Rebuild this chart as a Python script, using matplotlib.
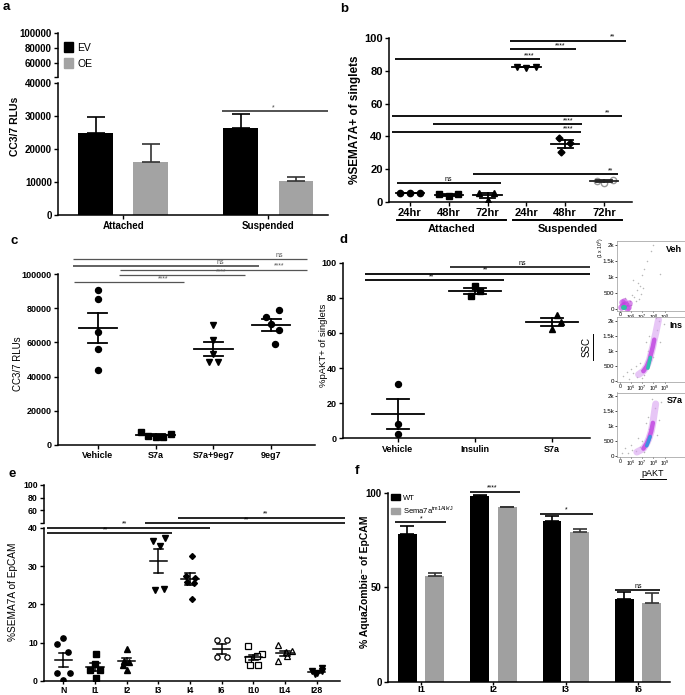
import numpy as np
import matplotlib
matplotlib.use("Agg")
import matplotlib.pyplot as plt
from matplotlib.lines import Line2D
from matplotlib.patches import Patch

plt.rcParams['font.family'] = ['Liberation Sans', 'DejaVu Sans']
plt.rcParams['font.weight'] = 'bold'
plt.rcParams['axes.labelweight'] = 'bold'
plt.rcParams['axes.linewidth'] = 1.1
plt.rcParams['xtick.major.width'] = 1.0
plt.rcParams['ytick.major.width'] = 1.0
plt.rcParams['xtick.major.size'] = 3
plt.rcParams['ytick.major.size'] = 3
plt.rcParams['xtick.major.pad'] = 1.5
plt.rcParams['ytick.major.pad'] = 1.5

# ---- data ----
# a: caspase 3/7 luminescence
a_groups = ['Attached', 'Suspended']
a_ev = [25000, 26300]
a_ev_err = [4900, 4400]
a_oe = [16000, 10300]
a_oe_err = [5500, 1100]

# b: %SEMA7A+ over time
b_times = ['24hr', '48hr', '72hr', '24hr', '48hr', '72hr']
b_vals = [[5.2, 5.5, 5.4], [5.1, 3.5, 4.7], [5.7, 5.5, 1.0],
          [82.6, 82.0, 82.6], [38.8, 36.1, 30.6], [12.9, 11.6, 13.3]]

# c: CC3/7 with S7a / 9eg7
c_groups = ['Vehicle', 'S7a', 'S7a+9eg7', '9eg7']
c_vals = [[90800, 85400, 66200, 56400, 44100],
          [7400, 5500, 4500, 4900, 6400],
          [69900, 61500, 53100, 48800, 48400],
          [78700, 74600, 70900, 67000, 59200]]

# d: %pAKT+
d_groups = ['Vehicle', 'Insulin', 'S7a']
d_vals = [[30.7, 8.0, 2.7], [86.5, 84.0, 81.0], [70.2, 66.4, 62.2]]

# e: %SEMA7A of EpCAM across involution days
e_groups = ['N', 'I1', 'I2', 'I3', 'I4', 'I6', 'I10', 'I14', 'I28']
e_vals = [[11.1, 9.7, 7.5, 2.0, 2.0, 0.2],
          [7.1, 4.4, 2.8, 2.8, 0.7],
          [8.4, 5.3, 5.0, 4.2, 2.8],
          [36.4, 35.1, 37.3, 23.7, 23.9],
          [32.7, 27.4, 26.8, 25.9, 25.5, 21.3],
          [10.6, 10.6, 6.2, 6.2],
          [9.1, 7.1, 6.5, 5.8, 4.2, 4.2],
          [9.3, 7.5, 7.7, 6.6, 5.3],
          [2.5, 2.0, 3.3, 1.8, 2.7]]

# f: % AquaZombie- of EpCAM
f_groups = ['I1', 'I2', 'I3', 'I6']
f_wt = [78.0, 98.2, 85.2, 43.7]
f_wt_err = [4.4, 0.4, 2.5, 3.9]
f_ko = [56.0, 92.2, 79.0, 41.4]
f_ko_err = [1.3, 0.4, 1.8, 5.7]

# flow plots (pAKT vs SSC)
veh_gray_x = [0.9, 1.1, 1.3, 1.5, 1.6, 1.8, 2.0, 2.2, 0.7, 1.0, 1.4, 1.9, 2.4, 2.8, 0.5, 1.2, 1.7, 2.1, 3.0, 3.6]
veh_gray_y = [250, 420, 380, 600, 820, 700, 1050, 1250, 180, 120, 260, 450, 1500, 1800, 350, 900, 300, 650, 2000, 1100]
veh_blob_x = [0.1, 0.3, 0.5, 0.7, 0.2, 0.4, 0.6, 0.8]
veh_blob_y = [60, 120, 140, 60, 200, 250, 30, 180]
veh_core_x = [0.25, 0.4]
veh_core_y = [50, 70]

ins_gray_x = [0.3, 0.8, 1.2, 1.5, 1.9, 2.2, 2.5, 3.3, 3.6, 1.0, 1.8, 2.3, 3.0, 3.9, 0.6, 2.6, 3.2, 1.4, 2.0, 3.5]
ins_gray_y = [150, 60, 250, 120, 350, 200, 1000, 1700, 1300, 400, 600, 1300, 800, 1900, 300, 1500, 2100, 500, 100, 2000]
ins_ridge_x = [1.67, 2.1, 2.41, 2.65, 2.8, 2.95, 3.07, 3.21, 3.45]
ins_ridge_y = [202, 315, 483, 708, 933, 1157, 1382, 1607, 2056]
ins_core_x = [2.5, 2.6, 2.72]
ins_core_y = [420, 580, 780]

s7a_gray_x = [0.2, 0.7, 1.1, 1.4, 1.8, 2.2, 2.6, 3.1, 3.5, 1.0, 2.0, 2.5, 3.3, 0.5, 2.9, 1.6, 3.7, 2.3]
s7a_gray_y = [100, 80, 200, 150, 300, 120, 900, 1600, 1200, 350, 500, 1300, 700, 250, 1900, 600, 1800, 1100]
s7a_ridge_x = [1.52, 2.1, 2.4, 2.6, 2.8, 2.95, 3.06, 3.2]
s7a_ridge_y = [116, 233, 407, 581, 814, 1105, 1395, 1744]
s7a_core_x = [2.4, 2.55, 2.7]
s7a_core_y = [330, 470, 640]

# ---- layout helpers ----
W, H = 685, 695
fig = plt.figure(figsize=(W / 100, H / 100), dpi=100)


def box(x0, y0, x1, y1):
    # axes from a pixel box measured from the top-left corner
    return fig.add_axes([x0 / W, 1 - y1 / H, (x1 - x0) / W, (y1 - y0) / H])


def clean(ax):
    ax.spines['top'].set_visible(False)
    ax.spines['right'].set_visible(False)


def mean_sem(ax, x, vals, wm, wc, lw=1.3, color='black'):
    m = np.mean(vals)
    s = np.std(vals, ddof=1) / np.sqrt(len(vals))
    ax.plot([x - wm / 2, x + wm / 2], [m, m], color=color, lw=lw, zorder=4)
    ax.plot([x, x], [m - s, m + s], color=color, lw=lw, zorder=4)
    for yy in (m - s, m + s):
        ax.plot([x - wc / 2, x + wc / 2], [yy, yy], color=color, lw=lw, zorder=4)


def sig(ax, x0, x1, y, txt, tx, color='black', lw=1.3, size=5):
    ax.plot([x0, x1], [y, y], color=color, lw=lw, clip_on=False, solid_capstyle='butt')
    ax.text(tx, y, txt, ha='center', va='bottom', fontsize=size, color=color,
            fontweight='normal', clip_on=False)


def fig_line(x0, y0, x1, y1, lw=1.3, color='black'):
    fig.add_artist(Line2D([x0 / W, x1 / W], [1 - y0 / H, 1 - y1 / H], lw=lw, color=color))


def fig_text(x, y, s, **kw):
    fig.text(x / W, 1 - y / H, s, **kw)


# ---- panel a ----
axa = box(58, 83.3, 328, 215)
axa_up = box(58, 33.3, 328, 77.3)
x = np.arange(len(a_groups))
axa.bar(x - 0.19, a_ev, 0.24, color='black')
axa.bar(x + 0.19, a_oe, 0.24, color='#a3a3a3')
axa.errorbar(x - 0.19, a_ev, yerr=[np.zeros(2), a_ev_err], fmt='none', ecolor='black',
             elinewidth=1.2, capsize=6.5, capthick=1.2)
axa.errorbar(x + 0.19, a_oe, yerr=[np.zeros(2), a_oe_err], fmt='none', ecolor='#333333',
             elinewidth=1.2, capsize=6.5, capthick=1.2)
axa.set_xlim(-0.45, 1.41)
axa.set_ylim(0, 40000)
axa.set_yticks([0, 10000, 20000, 30000, 40000])
axa.set_xticks(x)
axa.set_xticklabels(a_groups)
axa.tick_params(labelsize=7)
clean(axa)
sig(axa, 0.68, 1.41, 31500, '*', 1.03, color='#444444')
axa_up.set_xlim(-0.45, 1.41)
axa_up.set_ylim(40000, 100000)
axa_up.set_yticks([40000, 60000, 80000, 100000])
axa_up.set_yticklabels(['', '60000', '80000', '100000'])
axa_up.set_xticks([])
axa_up.tick_params(labelsize=7)
for sp in ['top', 'right', 'bottom']:
    axa_up.spines[sp].set_visible(False)
axa_up.patch.set_alpha(0)
fig_text(15, 126, 'CC3/7 RLUs', rotation=90, ha='center', va='center', fontsize=7.5)
fig.legend(handles=[Patch(color='black', label='EV'), Patch(color='#a3a3a3', label='OE')],
           loc='upper left', bbox_to_anchor=(64 / W, 1 - 42 / H), frameon=False,
           prop={'size': 7.5, 'weight': 'normal'}, handlelength=0.9, handleheight=1.1,
           handletextpad=0.4, labelspacing=0.55, borderpad=0, borderaxespad=0)

# ---- panel b ----
axb = box(389, 38, 632, 202)
b_markers = ['o', 's', '^', 'v', 'D', 'o']
b_offsets = [[-0.25, 0, 0.25], [-0.25, 0, 0.25], [-0.21, 0.17, 0],
             [-0.25, 0, 0.25], [-0.15, 0.11, -0.1], [-0.19, 0, 0.22]]
for i, vals in enumerate(b_vals):
    xs = i + np.array(b_offsets[i])
    if i == 5:
        axb.plot(xs, vals, ls='none', marker='o', ms=4.5, mfc='white', mec='#999999', mew=1, zorder=3)
        mean_sem(axb, i, vals, 0.73, 0.39, color='#222222')
    else:
        axb.plot(xs, vals, ls='none', marker=b_markers[i], ms=4.5 if b_markers[i] != 'D' else 3.5,
                 color='black', zorder=3)
        mean_sem(axb, i, vals, 0.73, 0.39)
axb.set_xlim(-0.54, 5.72)
axb.set_ylim(0, 100)
axb.set_yticks([0, 20, 40, 60, 80, 100])
axb.set_xticks(range(6))
axb.set_xticklabels(b_times)
axb.tick_params(labelsize=8)
clean(axb)
sig(axb, -0.39, 3.35, 87, '****', 3.07)
sig(axb, 2.58, 4.28, 93, '****', 3.87)
sig(axb, 2.58, 5.57, 98.3, '**', 5.23)
sig(axb, -0.46, 5.46, 52.3, '**', 5.08)
sig(axb, 0.59, 4.43, 47.5, '****', 4.07)
sig(axb, -0.46, 4.41, 42.5, '****', 4.07)
sig(axb, 1.62, 5.36, 17, '**', 5.18)
sig(axb, -0.34, 2.35, 11.5, 'ns', 0.98)
fig_text(355, 120, '%SEMA7A+ of singlets', rotation=90, ha='center', va='center', fontsize=8.5)
fig_line(397, 220, 506, 220, lw=1.4)
fig_line(513, 220, 622, 220, lw=1.4)
fig_text(452, 229, 'Attached', ha='center', va='center', fontsize=8)
fig_text(568, 229, 'Suspended', ha='center', va='center', fontsize=8)

# ---- panel c ----
axc = box(58, 274, 315, 445)
c_markers = ['o', 's', 'v', 'o']
c_offsets = [[0, 0, 0, 0, 0], [-0.26, -0.13, 0, 0.13, 0.26],
             [0, 0, 0, -0.08, 0.08], [0.14, -0.09, 0, 0.13, 0.06]]
for i, vals in enumerate(c_vals):
    axc.plot(i + np.array(c_offsets[i]), vals, ls='none', marker=c_markers[i], ms=4.3,
             color='black', zorder=3)
    mean_sem(axc, i, vals, 0.67, 0.33)
axc.set_xlim(-0.69, 3.76)
axc.set_ylim(0, 100000)
axc.set_yticks(range(0, 100001, 20000))
axc.set_xticks(range(4))
axc.set_xticklabels(c_groups)
axc.tick_params(labelsize=6.5)
clean(axc)
gc = '#555555'
sig(axc, -0.43, 3.62, 108600, 'ns', 3.14, color=gc, lw=0.9)
sig(axc, -0.43, 2.79, 104500, 'ns', 2.12, color=gc, lw=1.3)
sig(axc, 0.38, 3.62, 102500, '****', 3.14, color=gc, lw=0.9)
sig(axc, 0.36, 2.55, 99200, '****', 2.13, color=gc, lw=0.9)
sig(axc, -0.42, 1.49, 95100, '****', 1.13, color=gc, lw=0.9)
fig_text(18, 364, 'CC3/7 RLUs', rotation=90, ha='center', va='center', fontsize=7, fontweight='normal')

# ---- panel d ----
axd = box(343, 262.7, 590, 438.3)
d_markers = ['o', 's', '^']
d_offsets = [[0, 0, 0], [0, 0.07, -0.05], [0.06, 0.12, 0]]
for i, vals in enumerate(d_vals):
    axd.plot(i + np.array(d_offsets[i]), vals, ls='none', marker=d_markers[i], ms=4.3,
             color='black', zorder=3)
    mean_sem(axd, i, vals, 0.68, 0.28)
axd.set_xlim(-0.71, 2.49)
axd.set_ylim(0, 100)
axd.set_yticks(range(0, 101, 20))
axd.set_xticks(range(3))
axd.set_xticklabels(d_groups)
axd.tick_params(labelsize=6.5)
clean(axd)
sig(axd, 0.68, 2.49, 97.7, 'ns', 1.61, lw=1.1)
sig(axd, -0.42, 2.49, 93.7, '**', 1.14, lw=1.3)
sig(axd, -0.42, 1.38, 90, '**', 0.44, lw=1.3)
fig_text(323, 345, '%pAKT+ of singlets', rotation=90, ha='center', va='center',
         fontsize=6.8, fontweight='normal')

# ---- flow plots ----
flow = [
    ((617, 240.7, 686, 310.5), 'Veh', veh_gray_x, veh_gray_y, veh_blob_x, veh_blob_y, veh_core_x, veh_core_y),
    ((617, 317.5, 686, 382), 'Ins', ins_gray_x, ins_gray_y, ins_ridge_x, ins_ridge_y, ins_core_x, ins_core_y),
    ((617, 392.5, 686, 457), 'S7a', s7a_gray_x, s7a_gray_y, s7a_ridge_x, s7a_ridge_y, s7a_core_x, s7a_core_y),
]
for k, (bx, name, gx, gy, rx, ry, cx, cy) in enumerate(flow):
    ax = box(*bx)
    ax.scatter(gx, gy, s=1.2, color='#b8b8b8', lw=0, zorder=1)
    if k == 0:
        ax.scatter(rx, ry, s=22, color='#c040e0', alpha=0.6, lw=0, zorder=2)
        ax.scatter(cx, cy, s=12, color='#30c0a0', lw=0, zorder=3)
    else:
        ax.plot(rx, ry, color='#d8a0f0', lw=5, alpha=0.6, solid_capstyle='round', zorder=2)
        ax.plot(rx[1:-2], ry[1:-2], color='#c040e0', lw=3.2, alpha=0.8, solid_capstyle='round', zorder=2)
        ax.plot(cx, cy, color='#30c0b0' if k == 1 else '#4090e0', lw=2.6, solid_capstyle='round', zorder=3)
    ax.set_xlim(-0.25, 5.9)
    ax.set_ylim(-50, 2130)
    ax.set_xticks(range(5))
    ax.set_xticklabels(['0'] + [r'$\mathregular{10^%d}$' % p for p in range(6, 10)])
    ax.set_yticks([0, 500, 1000, 1500, 2000])
    ax.set_yticklabels(['0', '500', '1k', '1.5k', '2k'])
    ax.tick_params(axis='y', labelsize=4.5, length=1.5, width=0.5, pad=0.6)
    ax.tick_params(axis='x', labelsize=3.8, length=1.0, width=0.5, pad=0.3)
    for lab in ax.get_xticklabels() + ax.get_yticklabels():
        lab.set_fontweight('normal')
    for sp in ax.spines.values():
        sp.set_color('#999999')
        sp.set_linewidth(0.5)
    ax.text(0.95, 0.94, name, transform=ax.transAxes, ha='right', va='top', fontsize=6.5)
fig_text(601, 248, '(1 x 10$^{\\mathregular{6}}$)', rotation=90, ha='center', va='center',
         fontsize=3.6, fontweight='normal')
fig_text(587, 347, 'SSC', rotation=90, ha='center', va='center', fontsize=7, fontweight='normal')
fig_line(592.5, 334, 592.5, 360, lw=0.7)
fig_text(653, 473, 'pAKT', ha='center', va='center', fontsize=6.5, fontweight='normal')
fig_line(640, 479, 666, 479, lw=0.7)

# ---- panel e ----
axe = box(44, 527.7, 340, 681)
axe_up = box(44, 485, 340, 522.7)
e_markers = ['o', 's', '^', 'v', 'D', 'o', 's', '^', 'v']
e_open = [False, False, False, False, False, True, True, True, False]
e_offsets = [[-0.02, -0.19, 0.16, -0.21, 0.21, 0], [0.03, 0, -0.16, 0.16, 0.03],
             [0, -0.07, 0.09, -0.13, 0], [-0.17, 0.04, 0.22, -0.1, 0.18],
             [0.08, -0.12, 0.15, -0.1, 0.12, 0.08], [-0.16, 0.16, -0.16, 0.16],
             [-0.16, 0.27, 0.11, -0.16, -0.1, 0.16], [-0.21, 0.02, 0.23, 0.07, -0.21],
             [-0.16, 0, 0.16, -0.05, 0.16]]
for i, vals in enumerate(e_vals):
    ms = 3.0 if e_markers[i] == 'D' else 3.8
    if e_open[i]:
        axe.plot(i + np.array(e_offsets[i]), vals, ls='none', marker=e_markers[i], ms=ms,
                 mfc='white', mec='black', mew=0.9, zorder=3)
    else:
        axe.plot(i + np.array(e_offsets[i]), vals, ls='none', marker=e_markers[i], ms=ms,
                 color='black', zorder=3)
    mean_sem(axe, i, vals, 0.55, 0.29, lw=1.1)
axe.set_xlim(-0.61, 8.74)
axe.set_ylim(0, 40)
axe.set_yticks([0, 10, 20, 30, 40])
axe.set_xticks(range(9))
axe.set_xticklabels(e_groups)
axe.tick_params(labelsize=6.3)
axe.tick_params(axis='x', length=2.5, pad=1)
clean(axe)
sig(axe, 3.62, 8.89, 42.6, '**', 6.4, lw=1.2)
sig(axe, 2.58, 8.89, 41.1, '**', 5.8, lw=1.2)
sig(axe, -0.51, 4.63, 40.0, '**', 1.92, lw=1.2)
sig(axe, -0.51, 3.43, 38.5, '**', 1.32, lw=1.2)
axe_up.set_xlim(-0.61, 8.74)
axe_up.set_ylim(40, 100)
axe_up.set_yticks([40, 60, 80, 100])
axe_up.set_yticklabels(['', '60', '80', '100'])
axe_up.set_xticks([])
axe_up.tick_params(labelsize=6.3)
for sp in ['top', 'right', 'bottom']:
    axe_up.spines[sp].set_visible(False)
axe_up.patch.set_alpha(0)
fig_text(13, 592, '%SEMA7A of EpCAM', rotation=90, ha='center', va='center',
         fontsize=7.3, fontweight='normal')

# ---- panel f ----
axf = box(388, 492.7, 670, 681.7)
xf = np.arange(len(f_groups))
axf.bar(xf - 0.19, f_wt, 0.26, color='black')
axf.bar(xf + 0.19, f_ko, 0.26, color='#a0a0a0')
axf.errorbar(xf - 0.19, f_wt, yerr=[np.zeros(4), f_wt_err], fmt='none', ecolor='black',
             elinewidth=1.2, capsize=5, capthick=1.2)
axf.errorbar(xf + 0.19, f_ko, yerr=[np.zeros(4), f_ko_err], fmt='none', ecolor='#333333',
             elinewidth=1.2, capsize=5, capthick=1.2)
axf.set_xlim(-0.456, 3.44)
axf.set_ylim(0, 100)
axf.set_yticks([0, 50, 100])
axf.set_xticks(xf)
axf.set_xticklabels(f_groups)
axf.tick_params(labelsize=7)
axf.tick_params(axis='x', length=2, pad=0.5, labelsize=6.8)
clean(axf)
sig(axf, -0.36, 0.35, 84.3, '*', 0.0, lw=1.2)
sig(axf, 0.68, 1.37, 100.5, '****', 0.99, lw=1.2)
sig(axf, 1.64, 2.37, 88.9, '*', 2.0, lw=1.2)
sig(axf, 2.68, 3.30, 48.5, 'ns', 3.0, lw=1.2)
axf.legend(handles=[Patch(color='black', label='WT'),
                    Patch(color='#a0a0a0', label='Sema7a$^{\\mathregular{tm1Alk/J}}$')],
           loc='upper left', bbox_to_anchor=(0.005, 1.0), frameon=False,
           prop={'size': 5.5, 'weight': 'normal'}, handlelength=1.2, handleheight=0.8,
           handletextpad=0.4, labelspacing=0.3, borderpad=0, borderaxespad=0.2)
fig_text(365, 582, '% AquaZombie\u207b of EpCAM', rotation=90, ha='center', va='center', fontsize=7.5)

# ---- panel letters ----
for lx, ly, s in [(6, 7, 'a'), (344, 9, 'b'), (14, 241, 'c'), (344, 240, 'd'), (12, 474, 'e'), (357, 471, 'f')]:
    fig_text(lx, ly, s, ha='center', va='center', fontsize=9.5)

fig.savefig('out.png', dpi=100)
